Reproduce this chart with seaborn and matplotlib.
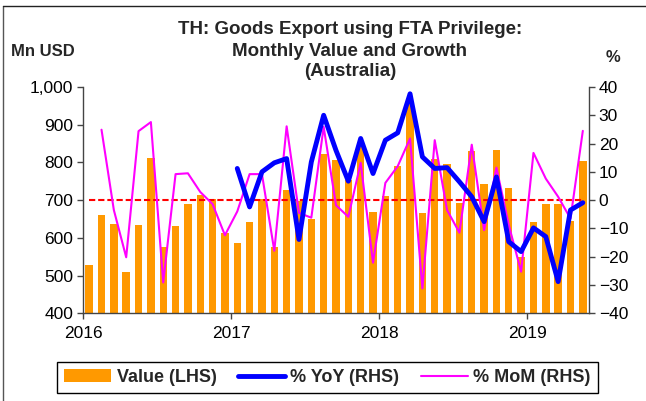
import numpy as np
import pandas as pd
import matplotlib
matplotlib.use("Agg")
import matplotlib.pyplot as plt
import seaborn as sns
from matplotlib.patches import Patch
from matplotlib.lines import Line2D
from matplotlib.ticker import FuncFormatter

# ---- data (Jan 2016 .. May 2019) ----
months = pd.date_range("2016-01-01", "2019-05-01", freq="MS").strftime("%Y-%m").tolist()
values = [528, 660, 638, 509, 634, 811, 576, 631, 690, 713, 702, 612,
          587, 641, 702, 576, 728, 698, 651, 822, 806, 753, 846, 669,
          710, 790, 960, 666, 810, 795, 692, 831, 743, 832, 733, 550,
          641, 689, 689, 644, 804]
yoy = [np.nan] * 12 + [11.2, -2.4, 10.0, 13.2, 14.7, -13.9, 13.5, 30.0, 17.6, 6.7, 21.8, 9.4,
                       21.2, 23.8, 37.6, 15.3, 11.2, 11.5, 6.5, 1.2, -7.6, 8.2, -14.7, -18.2,
                       -9.8, -12.9, -28.8, -3.5, -0.9]
mom = [np.nan, 24.9, -3.5, -20.2, 24.4, 27.6, -29.1, 9.2, 9.5, 2.9, -1.4, -12.4,
       -4.0, 9.2, 9.2, -17.9, 26.1, -4.5, -6.2, 25.9, -1.8, -5.9, 13.2, -22.1,
       6.1, 12.0, 21.8, -31.2, 21.2, -3.5, -11.5, 19.6, -10.6, 11.5, -8.8, -25.3,
       16.7, 7.6, 1.2, -6.5, 24.5]
ref_level = 700
year_labels = ["2016", "2017", "2018", "2019"]

df = pd.DataFrame({"month": months, "pos": np.arange(len(months)),
                   "value": values, "yoy": yoy, "mom": mom})

sns.set_theme(style="white")
plt.rcParams["font.family"] = ["Liberation Sans", "DejaVu Sans"]

ORANGE = "#FF9900"
fig = plt.figure(figsize=(6.46, 4.01), dpi=100)
ax = fig.add_axes([83 / 646, 1 - 313.3 / 401, (589 - 83) / 646, (313.3 - 87) / 401])

sns.barplot(data=df, x="pos", y="value", native_scale=True, color=ORANGE,
            saturation=1, width=0.6, ax=ax, linewidth=0)
ax.hlines(ref_level, df["pos"].iloc[0], df["pos"].iloc[-1], colors="#FF0000",
          linestyles=(0, (3, 1.4)), linewidth=1.5, zorder=3)
ax.set_ylim(400, 1000)
ax.set_xlim(-0.5, len(months) - 0.5)
ax.set_yticks(np.arange(400, 1001, 100))
ax.yaxis.set_major_formatter(FuncFormatter(lambda v, p: f"{v:,.0f}"))
ax.set_xticks([-0.5, 11.5, 23.5, 35.5])
ax.set_xticklabels(year_labels)

ax2 = ax.twinx()
sns.lineplot(data=df, x="pos", y="mom", color="#FF00FF", linewidth=1.5, ax=ax2)
sns.lineplot(data=df, x="pos", y="yoy", color="#0000FF", linewidth=3.5, ax=ax2)
ax2.set_ylim(-40, 40)
ax2.set_yticks(np.arange(-40, 41, 10))
ax2.set_xlim(-0.5, len(months) - 0.5)

for a in (ax, ax2):
    a.set_xlabel("")
    a.set_ylabel("")
    a.spines["top"].set_visible(False)
    for s in a.spines.values():
        s.set_color("#444444")
        s.set_linewidth(1)
ax.spines["right"].set_visible(False)
ax2.spines["left"].set_visible(False)
ax2.spines["bottom"].set_visible(False)
ax.tick_params(axis="both", which="both", direction="out", length=4, width=1,
               color="#444444", labelsize=12.5, labelcolor="black", pad=3)
ax.tick_params(axis="x", bottom=True, pad=5)
ax.tick_params(axis="y", left=True)
ax2.tick_params(axis="y", right=True, direction="out", length=4, width=1,
                color="#444444", labelsize=12.5, labelcolor="black", pad=3)

# titles and axis headers
title_x = 350 / 646
for txt, yp in [("TH: Goods Export using FTA Privilege:", 30),
                ("Monthly Value and Growth", 51),
                ("(Australia)", 72)]:
    fig.text(title_x, 1 - yp / 401, txt, ha="center", va="center",
             fontsize=13.5, fontweight="bold")
fig.text(43 / 646, 1 - 51 / 401, "Mn USD", ha="center", va="center",
         fontsize=12, fontweight="bold")
fig.text(613 / 646, 1 - 57 / 401, "%", ha="center", va="center",
         fontsize=12, fontweight="bold")

# legend
handles = [Patch(facecolor=ORANGE, edgecolor="none"),
           Line2D([], [], color="#0000FF", lw=3.5),
           Line2D([], [], color="#FF00FF", lw=1.5)]
labels = ["Value (LHS)", "% YoY (RHS)", "% MoM (RHS)"]
leg = fig.legend(handles, labels, loc="center", bbox_to_anchor=(327.5 / 646, 1 - 377.5 / 401),
                 ncol=3, frameon=True, fancybox=False, edgecolor="black",
                 prop={"weight": "bold", "size": 13}, handlelength=2.6,
                 columnspacing=1.2, handletextpad=0.3, borderpad=0.4,
                 borderaxespad=0)
leg.get_frame().set_linewidth(1)
leg.get_frame().set_alpha(1)

# outer frame (left and top edges)
fig.add_artist(Line2D([3 / 646, 3 / 646], [0, 1 - 6 / 401], transform=fig.transFigure,
                      color="#555555", lw=1))
fig.add_artist(Line2D([3 / 646, 1], [1 - 6 / 401, 1 - 6 / 401], transform=fig.transFigure,
                      color="#222222", lw=1))

fig.savefig("out.png", dpi=100)
